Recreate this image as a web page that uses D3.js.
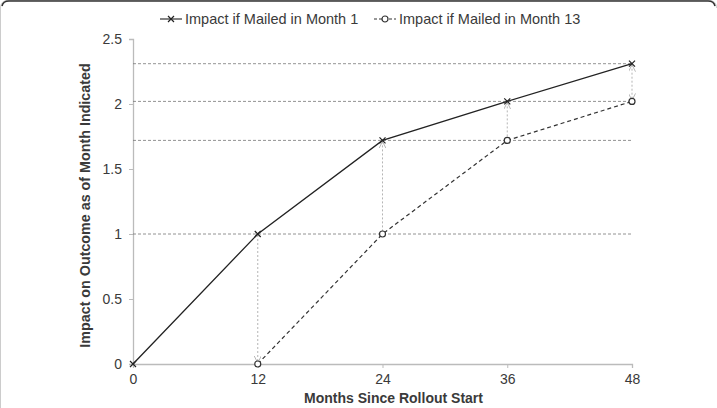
<!DOCTYPE html>
<html>
<head>
<meta charset="utf-8">
<script src="https://cdn.jsdelivr.net/npm/d3@7"></script>
<style>
  body { margin: 0; background: #fff; }
  svg { display: block; font-family: "Liberation Sans", Arial, sans-serif; }
</style>
</head>
<body>
<div id="chart"></div>
<script>
const months = [0, 12, 24, 36, 48];
const mailedMonth1 = [0, 1.0, 1.72, 2.02, 2.31];
const mailedMonth13Months = [12, 24, 36, 48];
const mailedMonth13 = [0, 1.0, 1.72, 2.02];
const yTicks = [0, 0.5, 1, 1.5, 2, 2.5];
const seriesNames = ["Impact if Mailed in Month 1", "Impact if Mailed in Month 13"];
// reference levels (month-1 impact) and the gap arrows between series
const refLevels = [1.0, 1.72, 2.02, 2.31];
const arrowDir = ["down", "up", "up", "both"];

const width = 717, height = 408;
const margin = { top: 39, right: 85, bottom: 44, left: 133 };
const ink = "#3a3a3a";

const svg = d3.select("#chart").append("svg")
  .attr("width", width).attr("height", height);

// frame
svg.append("path")
  .attr("d", `M0.5,${height} L0.5,8 Q0.5,0.5 8,0.5 L${width - 8},0.5 Q${width - 0.5},0.5 ${width - 0.5},8`)
  .attr("fill", "none").attr("stroke", "#ccc");
svg.append("path")
  .attr("d", `M2,6 Q3,1 9,1 L${width - 9},1 Q${width - 3},1 ${width - 2},6`)
  .attr("fill", "none").attr("stroke", "#333").attr("stroke-width", 1.6);

const x = d3.scaleLinear().domain([0, 48]).range([margin.left, width - margin.right]);
const y = d3.scaleLinear().domain([0, 2.5]).range([height - margin.bottom, margin.top]);

const defs = svg.append("defs");
defs.append("marker").attr("id", "ah")
  .attr("viewBox", "0 0 10 10").attr("refX", 10).attr("refY", 5)
  .attr("markerWidth", 7).attr("markerHeight", 7).attr("orient", "auto-start-reverse")
  .append("path").attr("d", "M0,0 L10,5 L0,10").attr("fill", "none")
  .attr("stroke", "#aaa").attr("stroke-width", 1.2);

// axes
const xAxis = svg.append("g")
  .attr("transform", `translate(0,${y(0)})`)
  .call(d3.axisBottom(x).tickValues(months).tickSize(4).tickPadding(6));
const yAxis = svg.append("g")
  .attr("transform", `translate(${x(0)},0)`)
  .call(d3.axisLeft(y).tickValues(yTicks).tickSize(4).tickPadding(7).tickFormat(d3.format("")));
[xAxis, yAxis].forEach((g) => {
  g.attr("font-size", 14).attr("font-family", null);
  g.select(".domain").attr("stroke", "#bbb").attr("stroke-width", 1.3);
  g.selectAll(".tick line").attr("stroke", "#bbb");
  g.selectAll(".tick text").attr("fill", ink);
});

// horizontal reference lines
svg.append("g").selectAll("line").data(refLevels).join("line")
  .attr("x1", x(0)).attr("x2", x(48))
  .attr("y1", (d) => y(d)).attr("y2", (d) => y(d))
  .attr("stroke", "#777").attr("stroke-width", 0.8).attr("stroke-dasharray", "3,2");

// vertical gap arrows
svg.append("g").selectAll("line").data(mailedMonth13Months).join("line")
  .attr("x1", (d) => x(d)).attr("x2", (d) => x(d))
  .attr("y1", (d, i) => y(mailedMonth1[i + 1]) + 1)
  .attr("y2", (d, i) => y(mailedMonth13[i]) - 1)
  .attr("stroke", "#b5b5b5").attr("stroke-width", 1).attr("stroke-dasharray", "2,2")
  .attr("marker-end", (d, i) => (arrowDir[i] === "down" || arrowDir[i] === "both") ? "url(#ah)" : null)
  .attr("marker-start", (d, i) => (arrowDir[i] === "up" || arrowDir[i] === "both") ? "url(#ah)" : null);

const line = d3.line().x((d) => x(d[0])).y((d) => y(d[1]));
const s1 = months.map((m, i) => [m, mailedMonth1[i]]);
const s2 = mailedMonth13Months.map((m, i) => [m, mailedMonth13[i]]);

svg.append("path").datum(s1).attr("d", line)
  .attr("fill", "none").attr("stroke", "#222").attr("stroke-width", 1.3);
svg.append("path").datum(s2).attr("d", line)
  .attr("fill", "none").attr("stroke", "#333").attr("stroke-width", 1.2).attr("stroke-dasharray", "4,3");

function cross(g, cx, cy) {
  g.append("path").attr("d", `M${cx - 3},${cy - 3}L${cx + 3},${cy + 3}M${cx - 3},${cy + 3}L${cx + 3},${cy - 3}`)
    .attr("stroke", "#222").attr("stroke-width", 1.2);
}
function ring(g, cx, cy) {
  g.append("circle").attr("cx", cx).attr("cy", cy).attr("r", 3)
    .attr("fill", "#fff").attr("stroke", "#333").attr("stroke-width", 1.2);
}
const markers = svg.append("g");
s1.forEach((d) => cross(markers, x(d[0]), y(d[1])));
s2.forEach((d) => ring(markers, x(d[0]), y(d[1])));

// axis titles
svg.append("text").attr("x", x(24) + 11).attr("y", 403).attr("text-anchor", "middle")
  .attr("font-size", 14).attr("font-weight", "bold").attr("fill", ink)
  .text("Months Since Rollout Start");
svg.append("text").attr("transform", `translate(90,${y(1.25) + 4}) rotate(-90)`)
  .attr("text-anchor", "middle").attr("font-size", 14.3).attr("font-weight", "bold").attr("fill", ink)
  .text("Impact on Outcome as of Month Indicated");

// legend
const legend = svg.append("g").attr("transform", "translate(0,19)");
const lx = [160, 374];
seriesNames.forEach((name, i) => {
  const g = legend.append("g").attr("transform", `translate(${lx[i]},0)`);
  g.append("line").attr("x1", 0).attr("x2", 22).attr("y1", 0).attr("y2", 0)
    .attr("stroke", "#333").attr("stroke-width", 1.2)
    .attr("stroke-dasharray", i === 0 ? null : "3,2");
  if (i === 0) cross(g, 11, 0); else ring(g, 11, 0);
  g.append("text").attr("x", 25).attr("y", 0).attr("dy", "0.35em")
    .attr("font-size", 14.5).attr("fill", ink).text(name);
});
</script>
</body>
</html>
